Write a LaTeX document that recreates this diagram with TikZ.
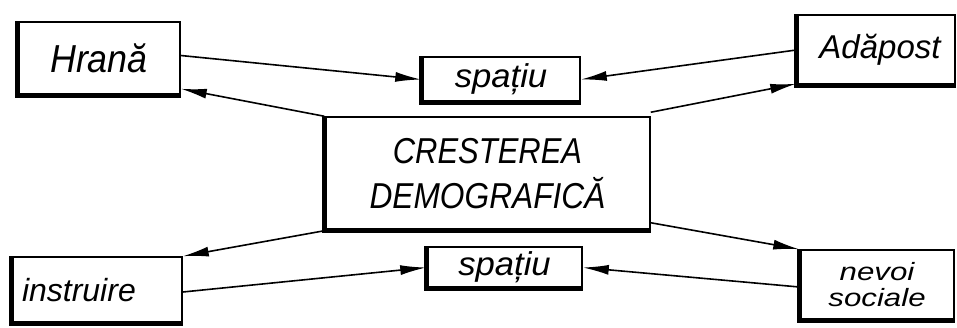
\documentclass[tikz,border=0pt]{standalone}
\usepackage{fontspec}
\setmainfont{Liberation Sans}
\usetikzlibrary{arrows.meta,calc}
\newcommand{\sx}[2]{\scalebox{#1}[1]{#2}}
\begin{document}
\begin{tikzpicture}[x=1pt,y=-1pt,
  box/.style={draw,line width=1.5pt,inner sep=0pt,align=center},
  conn/.style={line width=1.6pt,-{Latex[length=26pt,width=10pt]}},
  shadowline/.style={line width=5pt,line join=miter}]
\useasboundingbox (0,0) rectangle (957,327);

\node[box,minimum width=162pt,minimum height=73pt,
      font=\itshape\fontsize{39}{40}\selectfont] (hrana) at (99,58.5) {\sx{0.92}{Hrană}};
\node[box,minimum width=158pt,minimum height=45pt,
      font=\itshape\fontsize{33}{34}\selectfont] (sp1) at (501,79.5) {\sx{1.05}{spațiu}};
\node[box,minimum width=158pt,minimum height=70pt,
      font=\itshape\fontsize{33}{34}\selectfont] (adapost) at (876,50) {\hspace*{8pt}\sx{1.0}{Adăpost}};
\node[box,minimum width=325pt,minimum height=113pt,
      font=\itshape\fontsize{36}{45}\selectfont] (center) at (487.5,173.5)
      {\sx{0.86}{CRESTEREA}\\\sx{0.88}{DEMOGRAFICĂ}};
\node[box,text width=150pt,inner xsep=10pt,minimum height=66pt,align=left,
      font=\itshape\fontsize{32}{34}\selectfont] (instr) at (97,290) {\sx{1.0}{instruire}};
\node[box,minimum width=155pt,minimum height=41pt,
      font=\itshape\fontsize{33}{34}\selectfont] (sp2) at (504.5,267.5) {\sx{1.05}{spațiu}};
\node[box,minimum width=154pt,minimum height=70pt,
      font=\itshape\fontsize{25}{26}\selectfont] (nevoi) at (877,285)
      {\sx{1.25}{nevoi}\\\sx{1.25}{sociale}};

\foreach \n in {hrana,sp1,adapost,center,instr,sp2,nevoi}
  \draw[shadowline] (\n.north west) -- (\n.south west) -- (\n.south east);

\draw[conn] ($(hrana.east)+(0,-3)$) -- (sp1.west);
\draw[conn] (center.north west) -- ($(hrana.south east)+(0,-7)$);
\draw[conn] (adapost.west) -- (sp1.east);
\draw[conn] ($(center.north east)+(0,-4)$) -- ($(adapost.south west)+(0,-2)$);
\draw[conn] (center.south west) -- (instr.north east);
\draw[conn] ($(instr.east)+(0,2)$) -- (sp2.west);
\draw[conn] ($(center.south east)+(0,-8)$) -- (nevoi.north west);
\draw[conn] ($(nevoi.west)+(0,2)$) -- (sp2.east);
\end{tikzpicture}
\end{document}
